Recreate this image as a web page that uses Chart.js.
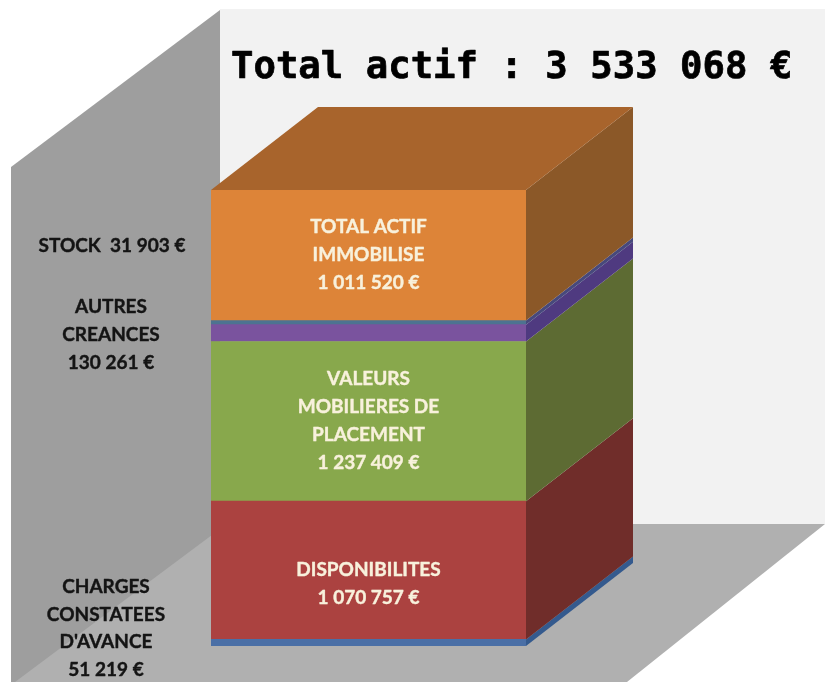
<!DOCTYPE html>
<html>
<head>
<meta charset="utf-8">
<script src="https://cdn.jsdelivr.net/npm/chart.js@4"></script>
<style>html,body{margin:0;padding:0;background:#fff}canvas{display:block}</style>
</head>
<body>
<canvas id="c" width="825" height="682"></canvas>
<script>
const categories = ["Total actif"];
const seriesNames = ["CHARGES CONSTATEES D'AVANCE","DISPONIBILITES","VALEURS MOBILIERES DE PLACEMENT","AUTRES CREANCES","STOCK","TOTAL ACTIF IMMOBILISE"];
const charges = [51219];
const disponibilites = [1070757];
const valeurs = [1237409];
const creances = [130261];
const stock = [31903];
const immobilise = [1011520];
const frontColors = ["#4a6fa6","#ab4240","#88a84c","#7a539e","#4d7391","#dd8438"];
const sideColors = ["#345a8e","#702d2a","#5d6b33","#4f3a80","#47497c","#8b5828"];
const topColor = "#a8642c";
const titleText = "Total actif : 3 533 068 €";
const innerLabels = [
  null,
  ["DISPONIBILITES","1 070 757 €"],
  ["VALEURS","MOBILIERES DE","PLACEMENT","1 237 409 €"],
  null,
  null,
  ["TOTAL ACTIF","IMMOBILISE","1 011 520 €"]
];
const outerLabels = [
  {lines:["STOCK  31 903 €"], x:112, y:246, step:28},
  {lines:["AUTRES","CREANCES","130 261 €"], x:111, y:307, step:28},
  {lines:["CHARGES","CONSTATEES","D'AVANCE","51 219 €"], x:106, y:587, step:27.5}
];
const depthX = 107, depthY = -83;

const poly = (ctx, pts, color) => {
  ctx.fillStyle = color;
  ctx.beginPath();
  pts.forEach((p,i)=> i ? ctx.lineTo(p[0],p[1]) : ctx.moveTo(p[0],p[1]));
  ctx.closePath();
  ctx.fill();
};
const boldText = (ctx, t, x, y, color, w) => {
  ctx.fillStyle = color;
  ctx.strokeStyle = color;
  ctx.lineWidth = w;
  ctx.lineJoin = "round";
  ctx.strokeText(t, x, y);
  ctx.fillText(t, x, y);
};

const scene = {
  id:"scene",
  beforeDatasetsDraw(chart){
    const ctx = chart.ctx;
    ctx.save();
    poly(ctx,[[220,9],[825,9],[825,524],[220,524]],"#f2f2f2");
    poly(ctx,[[220,524],[825,524],[627,682],[11,682]],"#b0b0b0");
    poly(ctx,[[11,167],[220,10],[220,529],[15,682],[11,682]],"#9e9e9e");
    ctx.restore();
  },
  afterDatasetsDraw(chart){
    const ctx = chart.ctx;
    ctx.save();
    chart.data.datasets.forEach((ds,i)=>{
      const el = chart.getDatasetMeta(i).data[0];
      const r = el.x + el.width/2, l = el.x - el.width/2;
      poly(ctx,[[r,el.base],[r+depthX,el.base+depthY],[r+depthX,el.y+depthY],[r,el.y]],sideColors[i]);
      if(i===chart.data.datasets.length-1){
        poly(ctx,[[l,el.y],[l+depthX,el.y+depthY],[r+depthX,el.y+depthY],[r,el.y]],topColor);
      }
    });
    ctx.textAlign="center";
    ctx.textBaseline="middle";
    ctx.font="bold 19px Lato";
    innerLabels.forEach((lines,i)=>{
      if(!lines) return;
      const el = chart.getDatasetMeta(i).data[0];
      const shift = i===1 ? 14 : 0;
      const cy = (el.y+el.base)/2 + shift;
      lines.forEach((t,k)=> boldText(ctx, t, el.x, cy + (k-(lines.length-1)/2)*28, "#f8f1dc", 0.4));
    });
    outerLabels.forEach(o=> o.lines.forEach((t,k)=> boldText(ctx,t,o.x,o.y+k*o.step,"#141414",0.4)));
    ctx.font='bold 37.3px "DejaVu Sans Mono"';
    ctx.textAlign="left";
    boldText(ctx,titleText,231,68,"#000",0.7);
    ctx.restore();
  }
};

new Chart(document.getElementById("c"),{
  type:"bar",
  data:{
    labels:categories,
    datasets:[charges,disponibilites,valeurs,creances,stock,immobilise].map((d,i)=>({
      label:seriesNames[i], data:d, backgroundColor:frontColors[i], borderWidth:0,
      barPercentage:1, categoryPercentage:1
    }))
  },
  options:{
    responsive:false,
    animation:false,
    layout:{padding:{left:211,right:299,top:190,bottom:36}},
    plugins:{legend:{display:false},tooltip:{enabled:false},title:{display:false}},
    scales:{
      x:{stacked:true,display:false},
      y:{stacked:true,display:false,min:0,max:charges[0]+disponibilites[0]+valeurs[0]+creances[0]+stock[0]+immobilise[0]}
    }
  },
  plugins:[scene]
});
</script>
</body>
</html>
